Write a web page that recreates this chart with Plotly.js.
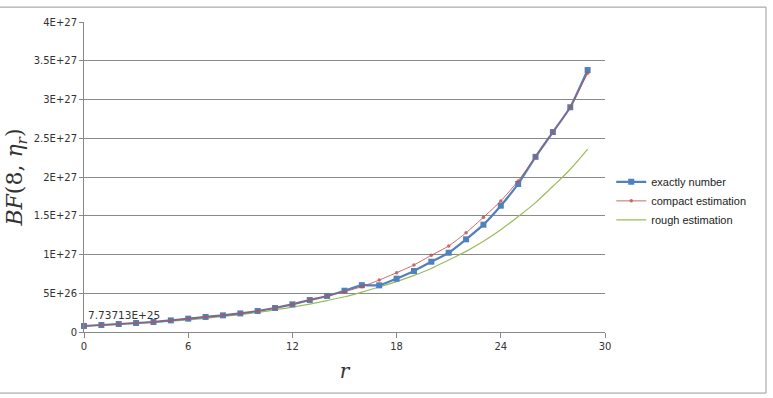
<!DOCTYPE html>
<html><head><meta charset="utf-8">
<script src="https://cdn.plot.ly/plotly-3.0.1.min.js"></script>
<style>html,body{margin:0;padding:0;background:#fff}#c{width:773px;height:398px}</style>
</head><body><div id="c"></div>
<script>
const r = [0,1,2,3,4,5,6,7,8,9,10,11,12,13,14,15,16,17,18,19,20,21,22,23,24,25,26,27,28,29];
const exactly = [7.73713e25,0.90e26,1.03e26,1.16e26,1.29e26,1.50e26,1.72e26,1.94e26,2.15e26,2.40e26,2.71e26,3.10e26,3.57e26,4.13e26,4.65e26,5.33e26,6.04e26,6.02e26,6.88e26,7.87e26,9.07e26,1.023e27,1.196e27,1.385e27,1.63e27,1.91e27,2.26e27,2.58e27,2.90e27,3.38e27];
const compact = [7.74e25,0.90e26,1.03e26,1.16e26,1.29e26,1.50e26,1.72e26,1.94e26,2.15e26,2.40e26,2.71e26,3.10e26,3.57e26,4.13e26,4.65e26,5.20e26,5.85e26,6.70e26,7.65e26,8.65e26,9.90e26,1.11e27,1.28e27,1.48e27,1.69e27,1.95e27,2.26e27,2.58e27,2.90e27,3.34e27];
const rough = [7.8e25,8.7e25,9.8e25,1.10e26,1.24e26,1.40e26,1.57e26,1.77e26,2.00e26,2.25e26,2.53e26,2.85e26,3.20e26,3.60e26,4.05e26,4.55e26,5.15e26,5.80e26,6.50e26,7.30e26,8.20e26,9.30e26,1.04e27,1.17e27,1.32e27,1.49e27,1.67e27,1.88e27,2.10e27,2.36e27];
const seriesNames = ["exactly number","compact estimation","rough estimation"];
const yTickVals = [0,5e26,1e27,1.5e27,2e27,2.5e27,3e27,3.5e27,4e27];
const yTickText = ["0","5E+26","1E+27","1.5E+27","2E+27","2.5E+27","3E+27","3.5E+27","4E+27"];
const xTickVals = [0,6,12,18,24,30];
const firstLabel = "7.73713E+25";

const traces = [
  {x:r, y:rough, name:seriesNames[2], mode:'lines', line:{color:'#9BBB59', width:1.2, shape:'spline'}, legendrank:3, cliponaxis:false},
  {x:r, y:exactly, name:seriesNames[0], mode:'lines+markers', line:{color:'#4F81BD', width:2.2, shape:'spline', smoothing:0.5}, marker:{symbol:'square', size:6, color:'#4F81BD'}, legendrank:1, cliponaxis:false},
  {x:r, y:compact, name:seriesNames[1], mode:'lines+markers', line:{color:'#C0504D', width:1, shape:'spline', smoothing:0.5}, marker:{symbol:'circle', size:3.5, color:'#C0504D'}, opacity:0.85, legendrank:2, cliponaxis:false}
];
const layout = {
  width:773, height:398,
  margin:{l:84, r:168, t:22, b:66, autoexpand:false},
  paper_bgcolor:'#fff', plot_bgcolor:'#fff',
  font:{family:'"DejaVu Sans", Arial, sans-serif', size:10, color:'#333'},
  showlegend:true,
  legend:{x:1.012, y:0.423, xanchor:'left', yanchor:'middle', font:{size:11, color:'#222', family:'"Liberation Sans", Arial, sans-serif'}, tracegroupgap:0, itemwidth:30, bgcolor:'rgba(0,0,0,0)'},
  xaxis:{range:[0,30], tickvals:xTickVals, ticks:'outside', ticklen:5, tickcolor:'#888', showline:true, linecolor:'#888', linewidth:1, showgrid:false, zeroline:false,
    title:{text:'<i>r</i>', font:{family:'"DejaVu Serif", "Liberation Serif", serif', size:20, color:'#333'}, standoff:12}},
  yaxis:{range:[0,4e27], tickvals:yTickVals, ticktext:yTickText, ticks:'outside', ticklen:4, tickcolor:'#888', showline:true, linecolor:'#888', linewidth:1, showgrid:true, gridcolor:'#8a8a8a', gridwidth:1, zeroline:false,
    title:{text:'<i>BF</i>(8, <i>η</i><sub><i>r</i></sub>)', font:{family:'"DejaVu Serif", "Liberation Serif", serif', size:22, color:'#333'}, standoff:4}},
  annotations:[{x:r[0], y:exactly[0], xref:'x', yref:'y', text:firstLabel, showarrow:false, xanchor:'left', yanchor:'bottom', xshift:2, yshift:3, font:{size:10.5, color:'#333'}}],
  shapes:[
    {type:'line', xref:'paper', yref:'paper', x0:-0.17, x1:1.309, y0:1.048, y1:1.048, line:{color:'#999', width:1}},
    {type:'line', xref:'paper', yref:'paper', x0:-0.17, x1:1.309, y0:-0.197, y1:-0.197, line:{color:'#999', width:1}},
    {type:'line', xref:'paper', yref:'paper', x0:1.309, x1:1.309, y0:-0.197, y1:1.048, line:{color:'#999', width:1}}
  ]
};
Plotly.newPlot('c', traces, layout, {displayModeBar:false, staticPlot:true});
</script></body></html>
